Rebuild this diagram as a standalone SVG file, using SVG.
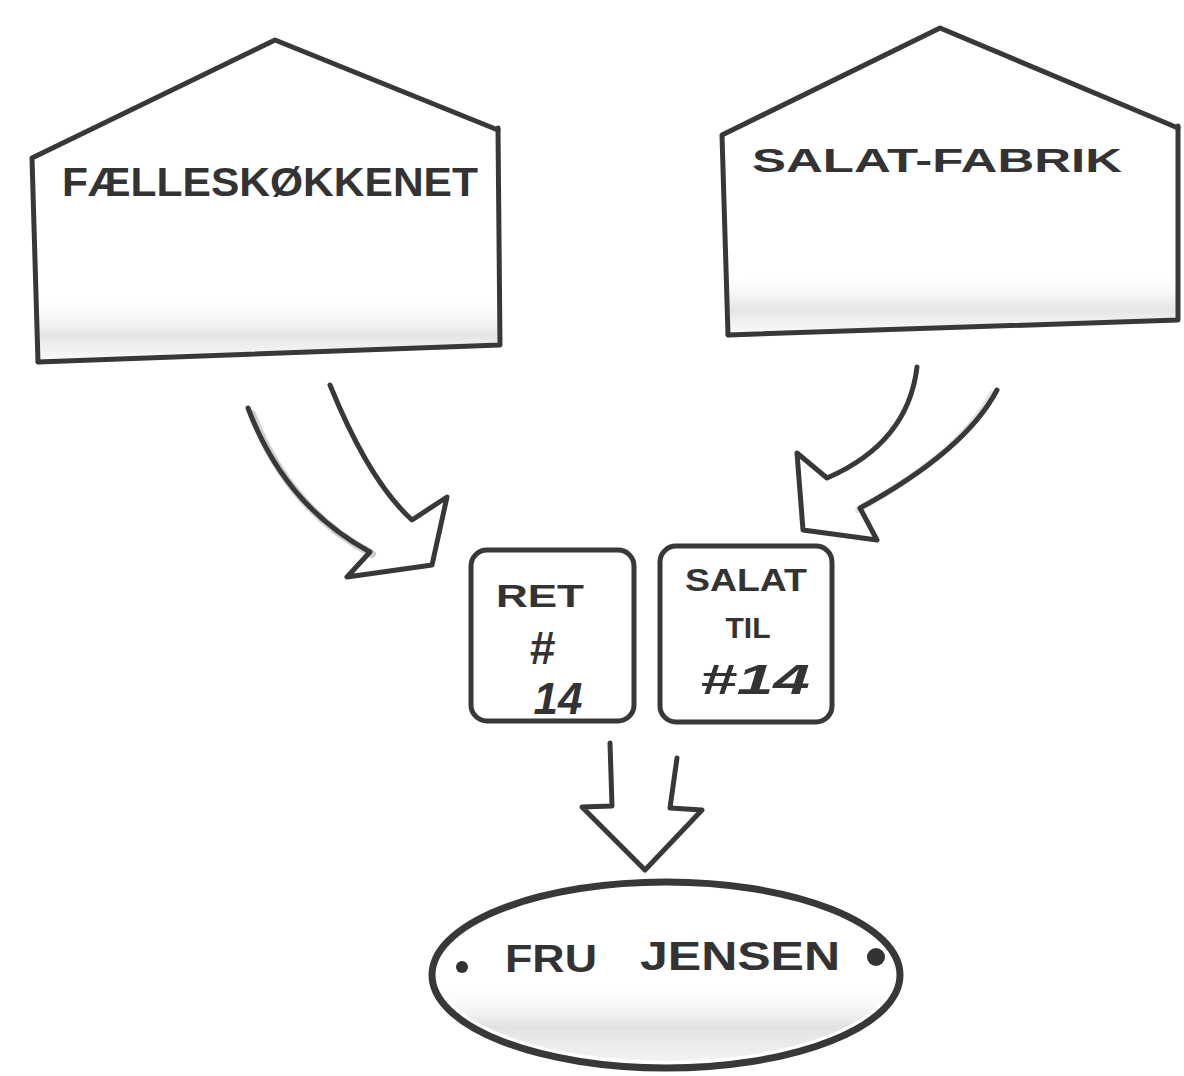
<svg xmlns="http://www.w3.org/2000/svg" width="1184" height="1076" viewBox="0 0 1184 1076">
  <defs>
    <style>
      .ln{fill:none;stroke:#383838;stroke-width:5;stroke-linejoin:round;stroke-linecap:round}
      .hand{font-family:"Liberation Sans",Arial,sans-serif;font-weight:bold;fill:#333}
    </style>
    <linearGradient id="band" x1="0" y1="0" x2="0" y2="1">
      <stop offset="0" stop-color="#ffffff" stop-opacity="0"/>
      <stop offset="0.6" stop-color="#d9d9d9" stop-opacity="0.7"/>
      <stop offset="1" stop-color="#eeeeee" stop-opacity="0.3"/>
    </linearGradient>
    <linearGradient id="ellShade" x1="0" y1="0" x2="0" y2="1">
      <stop offset="0" stop-color="#ffffff" stop-opacity="0"/>
      <stop offset="0.55" stop-color="#ffffff" stop-opacity="0"/>
      <stop offset="0.8" stop-color="#d5d5d5" stop-opacity="0.7"/>
      <stop offset="1" stop-color="#e6e6e6" stop-opacity="0.5"/>
    </linearGradient>
  </defs>
  <rect width="1184" height="1076" fill="#ffffff"/>

  <g id="node-faelleskoekkenet">
    <polygon points="38,362 32,160 275,40 498,130 500,345" fill="#ffffff"/>
    <polygon points="40,300 498,295 500,345 38,362" fill="url(#band)"/>
    <polyline class="ln" points="38,362 500,345 498,128"/>
    <polyline class="ln" points="38,362 32,158 275,40 498,130"/>
    <text class="hand" x="62" y="196" font-size="40" textLength="416" lengthAdjust="spacingAndGlyphs">FÆLLESKØKKENET</text>
  </g>

  <g id="node-salat-fabrik">
    <polygon points="728,335 722,135 940,28 1178,128 1178,320" fill="#ffffff"/>
    <polygon points="728,280 1178,272 1178,320 728,335" fill="url(#band)"/>
    <polyline class="ln" points="728,335 1178,320 1178,126"/>
    <polyline class="ln" points="728,335 722,135 940,28 1178,128"/>
    <text class="hand" x="752" y="172" font-size="33" textLength="370" lengthAdjust="spacingAndGlyphs">SALAT-FABRIK</text>
  </g>

  <g id="node-ret14">
    <rect class="ln" x="471" y="550" width="163" height="171" rx="16"/>
    <text class="hand" x="540" y="607" font-size="32" text-anchor="middle" textLength="88" lengthAdjust="spacingAndGlyphs">RET</text>
    <text class="hand" x="542" y="664" font-size="46" text-anchor="middle" font-style="italic">#</text>
    <text class="hand" x="558" y="714" font-size="44" text-anchor="middle" font-style="italic">14</text>
  </g>

  <g id="node-salat14">
    <rect class="ln" x="660" y="546" width="172" height="176" rx="16"/>
    <text class="hand" x="746" y="591" font-size="31" text-anchor="middle" textLength="122" lengthAdjust="spacingAndGlyphs">SALAT</text>
    <text class="hand" x="748" y="638" font-size="30" text-anchor="middle">TIL</text>
    <text class="hand" x="755" y="694" font-size="42" text-anchor="middle" font-style="italic" textLength="110" lengthAdjust="spacingAndGlyphs">#14</text>
  </g>

  <g id="node-fru-jensen">
    <ellipse cx="666" cy="975" rx="234" ry="93" fill="#ffffff"/>
    <ellipse cx="666" cy="975" rx="226" ry="86" fill="url(#ellShade)"/>
    <ellipse cx="666" cy="975" rx="234" ry="93" fill="none" stroke="#383838" stroke-width="7"/>
    <circle cx="462" cy="967" r="6" fill="#333"/>
    <circle cx="876" cy="957" r="9" fill="#333"/>
    <text class="hand" x="505" y="972" font-size="38" textLength="92" lengthAdjust="spacingAndGlyphs">FRU</text>
    <text class="hand" x="640" y="970" font-size="40" textLength="200" lengthAdjust="spacingAndGlyphs">JENSEN</text>
  </g>

  <g id="connectors">
    <path d="M252,414 Q289,510 372,554" fill="none" stroke="#cfcfcf" stroke-width="8" stroke-linecap="round"/>
    <path class="ln" d="M248,408 Q285,506 370,552 L347,577 L432,565 L447,497 L412,520 Q369,481 330,385"/>
    <path d="M992,394 Q961,452 858,510" fill="none" stroke="#e2e2e2" stroke-width="6" stroke-linecap="round"/>
    <path class="ln" d="M997,390 Q965,451 860,508 L877,540 L803,530 L797,453 L827,478 Q908,443 917,367"/>
    <path class="ln" d="M610,743 L612,806 L582,807 L645,870 L702,810 L670,808 L677,758"/>
  </g>
</svg>
